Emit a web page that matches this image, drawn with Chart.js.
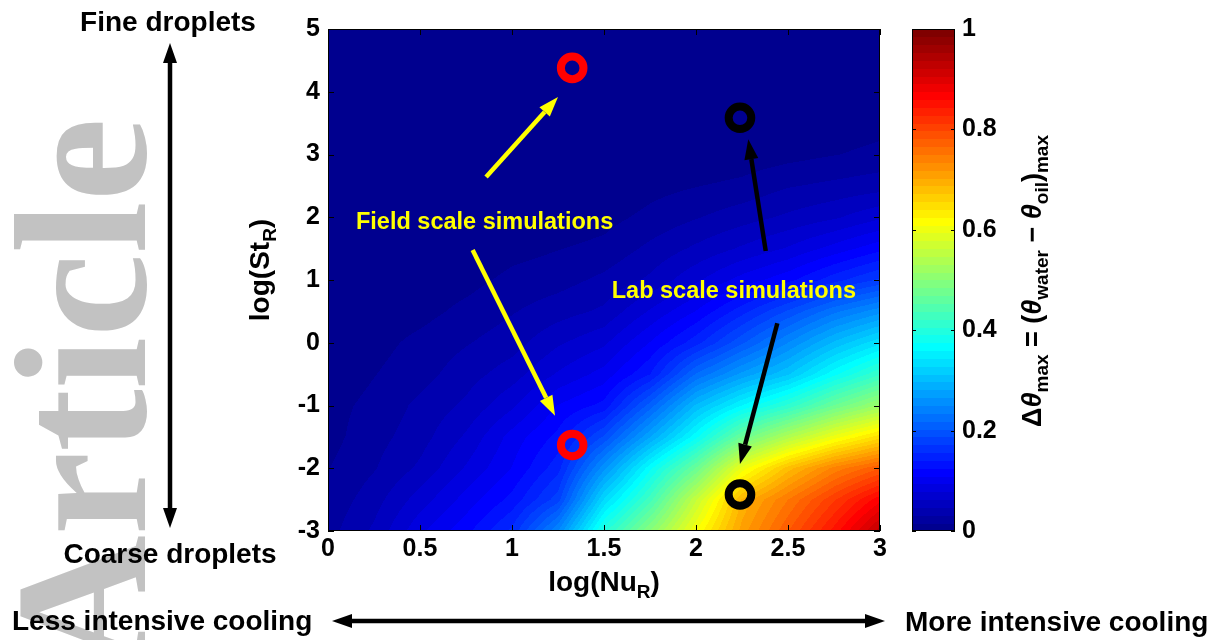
<!DOCTYPE html>
<html>
<head>
<meta charset="utf-8">
<script src="https://cdn.jsdelivr.net/npm/chart.js@4.4.0/dist/chart.umd.min.js"></script>
<style>
  html, body { margin: 0; padding: 0; background: #fff; }
  canvas { display: block; }
</style>
</head>
<body>
<canvas id="chart" width="1225" height="640"></canvas>
<script>
// map grid: columns are log(Nu_R), rows are log(St_R)
const logNuR = [0, 0.25, 0.5, 0.75, 1, 1.25, 1.5, 1.75, 2, 2.25, 2.5, 2.75, 3];
const logStR = [-3, -2.5, -2, -1.5, -1, -0.5, 0, 0.5, 1, 1.5, 2, 2.5, 3, 3.5, 4, 4.5, 5];

// delta theta max, one row for each logStR value
const dThetaMax = [
    [0.025, 0.05, 0.09, 0.12, 0.16, 0.25, 0.40, 0.50, 0.61, 0.71, 0.78, 0.85, 0.93],
    [0.02, 0.04, 0.07, 0.10, 0.13, 0.18, 0.33, 0.43, 0.56, 0.69, 0.75, 0.81, 0.87],
    [0.015, 0.03, 0.05, 0.08, 0.11, 0.15, 0.26, 0.37, 0.47, 0.60, 0.68, 0.74, 0.78],
    [0.01, 0.025, 0.04, 0.065, 0.10, 0.13, 0.19, 0.28, 0.37, 0.47, 0.54, 0.60, 0.65],
    [0.01, 0.02, 0.035, 0.05, 0.075, 0.11, 0.13, 0.21, 0.30, 0.36, 0.41, 0.47, 0.52],
    [0.005, 0.015, 0.025, 0.04, 0.055, 0.08, 0.10, 0.14, 0.22, 0.27, 0.31, 0.37, 0.42],
    [0.005, 0.01, 0.02, 0.03, 0.04, 0.06, 0.075, 0.11, 0.15, 0.20, 0.25, 0.30, 0.34],
    [0, 0.005, 0.01, 0.02, 0.03, 0.04, 0.05, 0.08, 0.11, 0.15, 0.19, 0.23, 0.26],
    [0, 0, 0.005, 0.01, 0.02, 0.025, 0.035, 0.05, 0.075, 0.10, 0.12, 0.15, 0.175],
    [0, 0, 0, 0, 0.01, 0.015, 0.02, 0.035, 0.05, 0.065, 0.08, 0.10, 0.12],
    [0, 0, 0, 0, 0, 0.005, 0.01, 0.02, 0.03, 0.04, 0.05, 0.06, 0.075],
    [0, 0, 0, 0, 0, 0, 0, 0.01, 0.015, 0.02, 0.03, 0.035, 0.04],
    [0, 0, 0, 0, 0, 0, 0, 0, 0, 0.005, 0.01, 0.015, 0.02],
    [0, 0, 0, 0, 0, 0, 0, 0, 0, 0, 0, 0.005, 0.01],
    [0, 0, 0, 0, 0, 0, 0, 0, 0, 0, 0, 0, 0],
    [0, 0, 0, 0, 0, 0, 0, 0, 0, 0, 0, 0, 0],
    [0, 0, 0, 0, 0, 0, 0, 0, 0, 0, 0, 0, 0]
];

// simulation cases
const fieldNu = [1.327, 1.327];
const fieldSt = [4.38, -1.63];
const labNu = [2.239, 2.239];
const labSt = [3.585, -2.418];

const cbTicks = [0, 0.2, 0.4, 0.6, 0.8, 1];

// arrows in data units: [tailNu, tailSt, tipNu, tipSt]
const fieldArrows = [[0.859, 2.64, 1.25, 3.916], [0.786, 1.478, 1.234, -1.162]];
const labArrows = [[2.379, 1.462, 2.284, 3.242], [2.442, 0.31, 2.239, -1.932]];

const SANS = '"Liberation Sans", Arial, sans-serif';

// matlab jet(64)
const jet = v => {
    const k = Math.min(63, Math.max(0, Math.floor(v * 64)));
    const t = (k + 1) / 64;
    const c = f => Math.round(255 * Math.min(1, Math.max(0, 1.5 - Math.abs(4 * t - f))));
    return [c(3), c(2), c(1)];
};

const locate = (arr, v) => {
    let i = 0;
    while (i < arr.length - 2 && v > arr[i + 1]) i++;
    return i;
};

const sample = (nu, st) => {
    const i = locate(logNuR, nu), j = locate(logStR, st);
    const tx = Math.min(1, Math.max(0, (nu - logNuR[i]) / (logNuR[i + 1] - logNuR[i])));
    const ty = Math.min(1, Math.max(0, (st - logStR[j]) / (logStR[j + 1] - logStR[j])));
    const a = dThetaMax[j][i], b = dThetaMax[j][i + 1];
    const c = dThetaMax[j + 1][i], d = dThetaMax[j + 1][i + 1];
    return (a * (1 - tx) + b * tx) * (1 - ty) + (c * (1 - tx) + d * tx) * ty;
};

const richText = (ctx, parts, x, y, angle, align) => {
    ctx.save();
    ctx.translate(x, y);
    ctx.rotate(angle);
    ctx.textAlign = 'left';
    ctx.textBaseline = 'alphabetic';
    let w = 0;
    parts.forEach(p => { ctx.font = p.font; w += ctx.measureText(p.text).width; });
    let cx = align === 'center' ? -w / 2 : 0;
    parts.forEach(p => {
        ctx.font = p.font;
        ctx.fillText(p.text, cx, p.dy || 0);
        cx += ctx.measureText(p.text).width;
    });
    ctx.restore();
};

const head = (ctx, x0, y0, x1, y1, hl, hw) => {
    const ang = Math.atan2(y1 - y0, x1 - x0);
    const bx = x1 - hl * Math.cos(ang), by = y1 - hl * Math.sin(ang);
    ctx.beginPath();
    ctx.moveTo(x1, y1);
    ctx.lineTo(bx + hw * Math.sin(ang), by - hw * Math.cos(ang));
    ctx.lineTo(bx - hw * Math.sin(ang), by + hw * Math.cos(ang));
    ctx.closePath();
    ctx.fill();
    return [bx, by];
};

const arrow = (ctx, x0, y0, x1, y1, color, double) => {
    ctx.save();
    ctx.strokeStyle = color;
    ctx.fillStyle = color;
    ctx.lineWidth = 4.5;
    const [bx, by] = head(ctx, x0, y0, x1, y1, 20, 7);
    let sx = x0, sy = y0;
    if (double) [sx, sy] = head(ctx, x1, y1, x0, y0, 20, 7);
    ctx.beginPath();
    ctx.moveTo(sx, sy);
    ctx.lineTo(bx, by);
    ctx.stroke();
    ctx.restore();
};

const watermark = {
    id: 'watermark',
    beforeDraw(chart) {
        const ctx = chart.ctx;
        ctx.save();
        ctx.translate(145, 671);
        ctx.rotate(-Math.PI / 2);
        ctx.font = 'bold 188px "Liberation Serif", "Times New Roman", serif';
        ctx.fillStyle = '#c2c2c2';
        ctx.textBaseline = 'alphabetic';
        ctx.fillText('Article', 0, 0);
        ctx.restore();

        ctx.fillStyle = '#000';
        ctx.font = 'bold 28px ' + SANS;
        ctx.textAlign = 'center';
        ctx.fillText('Fine droplets', 168, 31);
        ctx.fillText('Coarse droplets', 170, 563);
        ctx.textAlign = 'left';
        ctx.fillText('Less intensive cooling', 12, 630);
        ctx.fillText('More intensive cooling', 905, 631);
        arrow(ctx, 170, 43, 170, 528, '#000', true);
        arrow(ctx, 332, 621, 885, 621, '#000', true);
    }
};

const heatmap = {
    id: 'heatmap',
    beforeDatasetsDraw(chart) {
        const { ctx, chartArea: a, scales: { x, y } } = chart;
        const w = Math.round(a.right - a.left), h = Math.round(a.bottom - a.top);
        const off = document.createElement('canvas');
        off.width = w;
        off.height = h;
        const octx = off.getContext('2d');
        const img = octx.createImageData(w, h);
        for (let py = 0; py < h; py++) {
            const st = y.getValueForPixel(a.top + py + 0.5);
            for (let px = 0; px < w; px++) {
                const nu = x.getValueForPixel(a.left + px + 0.5);
                const col = jet(sample(nu, st));
                const o = (py * w + px) * 4;
                img.data[o] = col[0];
                img.data[o + 1] = col[1];
                img.data[o + 2] = col[2];
                img.data[o + 3] = 255;
            }
        }
        octx.putImageData(img, 0, 0);
        ctx.drawImage(off, a.left, a.top);
    }
};

const overlay = {
    id: 'overlay',
    afterDatasetsDraw(chart) {
        const { ctx, chartArea: a, scales: { x, y } } = chart;
        ctx.save();

        // arrows and labels inside the map
        fieldArrows.forEach(r => arrow(ctx, x.getPixelForValue(r[0]), y.getPixelForValue(r[1]),
            x.getPixelForValue(r[2]), y.getPixelForValue(r[3]), '#ffff00'));
        labArrows.forEach(r => arrow(ctx, x.getPixelForValue(r[0]), y.getPixelForValue(r[1]),
            x.getPixelForValue(r[2]), y.getPixelForValue(r[3]), '#000'));
        ctx.fillStyle = '#ffff00';
        ctx.font = 'bold 23.5px ' + SANS;
        ctx.textAlign = 'left';
        ctx.textBaseline = 'alphabetic';
        ctx.fillText('Field scale simulations', x.getPixelForValue(0.152), y.getPixelForValue(1.813));
        ctx.fillText('Lab scale simulations', x.getPixelForValue(1.542), y.getPixelForValue(0.708));

        // box with inward ticks
        ctx.strokeStyle = '#000';
        ctx.lineWidth = 1;
        ctx.strokeRect(a.left + 0.5, a.top + 0.5, a.right - a.left - 1, a.bottom - a.top - 1);
        ctx.beginPath();
        x.ticks.forEach(t => {
            const px = Math.round(x.getPixelForValue(t.value)) + 0.5;
            ctx.moveTo(px, a.bottom); ctx.lineTo(px, a.bottom - 6);
            ctx.moveTo(px, a.top); ctx.lineTo(px, a.top + 6);
        });
        y.ticks.forEach(t => {
            const py = Math.round(y.getPixelForValue(t.value)) + 0.5;
            ctx.moveTo(a.left, py); ctx.lineTo(a.left + 6, py);
            ctx.moveTo(a.right, py); ctx.lineTo(a.right - 6, py);
        });
        ctx.stroke();

        // colorbar
        const cl = a.right + 32, cw = 43, ct = a.top, cb = a.bottom;
        const ch = cb - ct;
        for (let k = 0; k < 64; k++) {
            const col = jet((k + 0.5) / 64);
            ctx.fillStyle = `rgb(${col[0]},${col[1]},${col[2]})`;
            const y0 = cb - ch * (k + 1) / 64, y1 = cb - ch * k / 64;
            ctx.fillRect(cl, Math.floor(y0), cw, Math.ceil(y1) - Math.floor(y0));
        }
        ctx.strokeRect(cl + 0.5, ct + 0.5, cw - 1, ch - 1);
        ctx.beginPath();
        ctx.fillStyle = '#000';
        ctx.font = 'bold 25px ' + SANS;
        ctx.textBaseline = 'middle';
        cbTicks.forEach(v => {
            const py = Math.round(cb - ch * v) + 0.5;
            ctx.moveTo(cl, py); ctx.lineTo(cl + 4, py);
            ctx.moveTo(cl + cw, py); ctx.lineTo(cl + cw - 4, py);
            ctx.fillText(String(v), cl + cw + 7, py);
        });
        ctx.stroke();

        // axis titles
        const main = 'bold 28px ' + SANS, sub = 'bold 19px ' + SANS;
        const ital = 'italic bold 28px ' + SANS;
        ctx.fillStyle = '#000';
        richText(ctx, [{ text: 'log(Nu', font: main }, { text: 'R', font: sub, dy: 7 }, { text: ')', font: main }],
            (a.left + a.right) / 2, 591, 0, 'center');
        richText(ctx, [{ text: 'log(St', font: main }, { text: 'R', font: sub, dy: 7 }, { text: ')', font: main }],
            269, 270, -Math.PI / 2, 'center');
        const cmain = 'bold 27px ' + SANS, csub = 'bold 19px ' + SANS, cital = 'italic bold 27px ' + SANS;
        richText(ctx, [
            { text: 'Δ', font: cmain }, { text: 'θ', font: cital }, { text: 'max', font: csub, dy: 7 },
            { text: ' = (', font: cmain }, { text: 'θ', font: cital }, { text: 'water', font: csub, dy: 7 },
            { text: ' − ', font: cmain }, { text: 'θ', font: cital }, { text: 'oil', font: csub, dy: 7 },
            { text: ')', font: cmain }, { text: 'max', font: csub, dy: 7 }
        ], 1041, 281, -Math.PI / 2, 'center');

        ctx.restore();
    }
};

const tickFont = { family: SANS, size: 25, weight: 'bold' };

new Chart(document.getElementById('chart'), {
    type: 'scatter',
    data: {
        datasets: [{
            label: 'Field scale simulations',
            data: fieldNu.map((v, i) => ({ x: v, y: fieldSt[i] })),
            pointRadius: 11.3,
            pointHoverRadius: 11.3,
            pointBorderWidth: 8,
            pointBorderColor: '#ff0000',
            pointBackgroundColor: 'rgba(0,0,0,0)',
            borderColor: '#ff0000',
            backgroundColor: 'rgba(0,0,0,0)'
        }, {
            label: 'Lab scale simulations',
            data: labNu.map((v, i) => ({ x: v, y: labSt[i] })),
            pointRadius: 11.3,
            pointHoverRadius: 11.3,
            pointBorderWidth: 8,
            pointBorderColor: '#000',
            pointBackgroundColor: 'rgba(0,0,0,0)',
            borderColor: '#000',
            backgroundColor: 'rgba(0,0,0,0)'
        }]
    },
    options: {
        responsive: false,
        animation: false,
        devicePixelRatio: 1,
        layout: { padding: { left: 0, right: 345, top: 29, bottom: 0 } },
        plugins: {
            legend: { display: false },
            tooltip: { enabled: false }
        },
        scales: {
            x: {
                type: 'linear',
                min: 0,
                max: 3,
                grid: { display: false, drawTicks: false },
                border: { display: false },
                ticks: {
                    stepSize: 0.5, color: '#000', font: tickFont, padding: 3, maxRotation: 0, autoSkip: false,
                    callback: v => String(v)
                },
                afterFit: s => { s.height = 109; }
            },
            y: {
                type: 'linear',
                min: -3,
                max: 5,
                grid: { display: false, drawTicks: false },
                border: { display: false },
                ticks: { stepSize: 1, color: '#000', font: tickFont, padding: 8, autoSkip: false },
                afterFit: s => { s.width = 328; }
            }
        }
    },
    plugins: [watermark, heatmap, overlay]
});
</script>
</body>
</html>
